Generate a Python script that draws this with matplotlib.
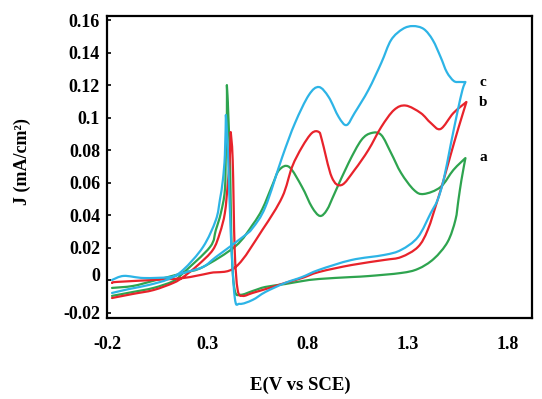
import matplotlib
matplotlib.use("Agg")
import matplotlib.pyplot as plt
import matplotlib.transforms as mtransforms
from matplotlib.path import Path
from matplotlib.patches import PathPatch
import numpy as np

# Curve c (cyan): spike branch -> spike -> bottom branch -> vertex -> reverse branch
c_x = [-0.175, -0.091, 0.008, 0.106, 0.180, 0.279, 0.343, 0.363, 0.378, 0.388, 0.393,
       0.403, 0.417, 0.437, 0.462, 0.526, 0.590, 0.689, 0.773, 0.857, 1.020, 1.183, 1.267,
       1.351, 1.415, 1.449, 1.479, 1.514, 1.548, 1.573, 1.588,
       1.560, 1.530, 1.495, 1.465, 1.425, 1.380, 1.326, 1.275, 1.217, 1.168, 1.104,
       1.035, 0.995, 0.956, 0.906, 0.857, 0.807, 0.738, 0.674, 0.590, 0.526, 0.477,
       0.343, 0.279, 0.180, 0.116, -0.017, -0.116, -0.175]
c_y = [-0.0079, -0.0055, -0.0030, 0.0006, 0.0063, 0.0204, 0.0370, 0.0493, 0.0616, 0.0770, 0.1016,
       0.0800, 0.0300, -0.0104, -0.0146, -0.0122, -0.0073, -0.0017, 0.0019, 0.0063, 0.0124, 0.0155, 0.0186,
       0.0265, 0.0413, 0.0493, 0.0616, 0.0831, 0.1034, 0.1170, 0.1219,
       0.1219, 0.1225, 0.1280, 0.1370, 0.1477, 0.1545, 0.1563, 0.1545, 0.1477, 0.1336, 0.1170,
       0.1028, 0.0954, 0.1003, 0.1126, 0.1188, 0.1139, 0.0967, 0.0757, 0.0450, 0.0320, 0.0265,
       0.0142, 0.0081, 0.0044, 0.0019, 0.0013, 0.0026, 0.0001]

# Curve b (red)
b_x = [-0.175, -0.071, 0.032, 0.131, 0.180, 0.254, 0.328, 0.363, 0.388, 0.402, 0.412, 0.417,
       0.427, 0.437, 0.452, 0.477, 0.526, 0.610, 0.689, 0.773, 0.857, 1.020, 1.183, 1.267,
       1.351, 1.400, 1.449, 1.479, 1.514, 1.553, 1.593,
       1.528, 1.464, 1.415, 1.365, 1.290, 1.232, 1.168, 1.104, 1.035, 0.970, 0.921, 0.872,
       0.857, 0.822, 0.773, 0.723, 0.674, 0.575, 0.442, 0.314, 0.180, 0.032, -0.151, -0.175]
b_y = [-0.0110, -0.0085, -0.0061, -0.0017, 0.0019, 0.0093, 0.0186, 0.0290, 0.0413, 0.0585, 0.0739, 0.0911,
       0.0739, 0.0186, -0.0061, -0.0097, -0.0079, -0.0048, -0.0017, 0.0013, 0.0050, 0.0093, 0.0124, 0.0142,
       0.0204, 0.0309, 0.0493, 0.0616, 0.0770, 0.0936, 0.1096,
       0.1028, 0.0930, 0.0967, 0.1028, 0.1074, 0.1047, 0.0942, 0.0801, 0.0678, 0.0585, 0.0634, 0.0862,
       0.0911, 0.0905, 0.0819, 0.0696, 0.0511, 0.0309, 0.0081, 0.0044, 0.0013, 0.0001, -0.0011, -0.0017]

# Curve a (green)
a_x = [-0.175, -0.071, 0.032, 0.131, 0.180, 0.314, 0.343, 0.368, 0.388, 0.393, 0.398, 0.398,
       0.412, 0.422, 0.437, 0.467, 0.526, 0.590, 0.689, 0.773, 0.857, 1.020, 1.104, 1.267,
       1.351, 1.430, 1.499, 1.538, 1.553, 1.568, 1.588,
       1.528, 1.464, 1.380, 1.331, 1.267, 1.217, 1.168, 1.119, 1.069, 1.005, 0.936, 0.897,
       0.862, 0.822, 0.773, 0.709, 0.659, 0.625, 0.575, 0.526, 0.442, 0.279, 0.180, 0.032, -0.071, -0.175]
a_y = [-0.0097, -0.0073, -0.0048, -0.0006, 0.0044, 0.0204, 0.0309, 0.0413, 0.0555, 0.0801, 0.1003, 0.1200,
       0.0801, 0.0186, -0.0061, -0.0090, -0.0067, -0.0042, -0.0024, -0.0006, 0.0007, 0.0019, 0.0025, 0.0044,
       0.0069, 0.0131, 0.0235, 0.0370, 0.0493, 0.0616, 0.0751,
       0.0678, 0.0573, 0.0530, 0.0555, 0.0659, 0.0782, 0.0893, 0.0905, 0.0862, 0.0721, 0.0536, 0.0432,
       0.0395, 0.0450, 0.0573, 0.0696, 0.0678, 0.0585, 0.0438, 0.0340, 0.0210, 0.0081, 0.0044, -0.0004, -0.0036, -0.0048]

curve_labels = ["c", "b", "a"]
label_y = [0.1213, 0.1090, 0.0757]
label_x = 1.657

x_ticks = [-0.2, 0.3, 0.8, 1.3, 1.8]
x_tick_labels = ["-0.2", "0.3", "0.8", "1.3", "1.8"]
y_ticks = [-0.02, 0, 0.02, 0.04, 0.06, 0.08, 0.1, 0.12, 0.14, 0.16]
y_tick_labels = ["-0.02", "0", "0.02", "0.04", "0.06", "0.08", "0.1", "0.12", "0.14", "0.16"]

plt.rcParams['font.family'] = ['Liberation Serif', 'DejaVu Serif']


def smooth_curve(ax, xs, ys, color, lw, corners=()):
    """Draw a smooth (Catmull-Rom -> cubic Bezier) line through the points."""
    P = np.column_stack([xs, ys]).astype(float)
    n = len(P)
    tang = np.zeros_like(P)
    for i in range(n):
        if i in corners:
            continue
        p0 = P[i - 1] if i > 0 else P[i]
        p2 = P[i + 1] if i < n - 1 else P[i]
        tang[i] = (p2 - p0) / 6.0
    verts = [P[0]]
    codes = [Path.MOVETO]
    for i in range(n - 1):
        verts += [P[i] + tang[i], P[i + 1] - tang[i + 1], P[i + 1]]
        codes += [Path.CURVE4] * 3
    patch = PathPatch(Path(verts, codes), fill=False, edgecolor=color, lw=lw,
                      joinstyle='round', capstyle='round', transform=ax.transData)
    ax.add_patch(patch)


fig = plt.figure(figsize=(5.42, 3.99), dpi=100)
ax = fig.add_axes([107/542, 1 - 318/399, (532-107)/542, (318-16)/399])

col_c = "#2db4e6"
col_b = "#e8232b"
col_a = "#2ea44f"

smooth_curve(ax, a_x, a_y, col_a, 1.6, corners=(11, 30))
smooth_curve(ax, b_x, b_y, col_b, 1.6, corners=(11, 30))
smooth_curve(ax, c_x, c_y, col_c, 1.6, corners=(10, 30))

for lab, ly in zip(curve_labels, label_y):
    ax.text(label_x, ly, lab, fontsize=11, fontweight='bold', ha='left', va='center')

ax.set_xlim(-0.2, 1.92)
ax.set_ylim(-0.0233, 0.1625)
ax.set_xticks(x_ticks)
ax.set_xticklabels(x_tick_labels, fontsize=13, fontweight='bold')
ax.set_yticks(y_ticks)
ax.set_yticklabels(y_tick_labels, fontsize=13, fontweight='bold')
ax.tick_params(axis='x', length=0, pad=13)
ax.tick_params(axis='y', direction='in', length=3, width=1.2, pad=5)
for s in ax.spines.values():
    s.set_linewidth(1.6)

# the "0" label sits slightly high in the original
zero_lab = ax.get_yticklabels()[1]
zero_lab.set_transform(zero_lab.get_transform() +
                       mtransforms.ScaledTranslation(0, 4/72, fig.dpi_scale_trans))

fig.text(300/542, 1 - 385/399, "E(V vs SCE)", fontsize=13.5, fontweight='bold',
         ha='center', va='center')
fig.text(22/542, 1 - 162/399, "J (mA/cm²)", fontsize=13, fontweight='bold',
         ha='center', va='center', rotation=90)

fig.savefig("out.png", dpi=100)
